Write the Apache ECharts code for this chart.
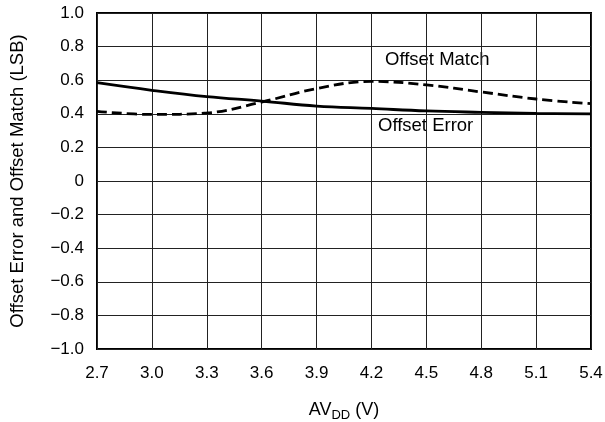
<!DOCTYPE html>
<html><head><meta charset="utf-8">
<script src="https://cdn.jsdelivr.net/npm/echarts@6/dist/echarts.min.js"></script>
<style>html,body{margin:0;padding:0;background:#fff}#c{width:605px;height:422px}</style>
</head><body><div id="c"></div>
<script>
const xValues = [2.7, 3.0, 3.3, 3.6, 3.9, 4.2, 4.5, 4.8, 5.1, 5.4];
const offsetError = [0.585, 0.54, 0.502, 0.476, 0.446, 0.432, 0.417, 0.409, 0.403, 0.399];
const offsetMatch = [0.415, 0.396, 0.405, 0.47, 0.55, 0.593, 0.572, 0.53, 0.488, 0.46];
const yTicks = [-1.0, -0.8, -0.6, -0.4, -0.2, 0, 0.2, 0.4, 0.6, 0.8, 1.0];

const chart = echarts.init(document.getElementById('c'));
const font = 'Liberation Sans, Arial, Helvetica, sans-serif';
function fmtY(v){ if (Math.abs(v) < 1e-9) return '0'; const s = Math.abs(v).toFixed(1); return v < 0 ? '\u2212' + s : s; }
chart.setOption({
  animation: false,
  grid: { left: 97, right: 14, top: 13, bottom: 73, show: true, borderColor: '#000', borderWidth: 2, containLabel: false, outerBoundsMode: 'none' },
  xAxis: {
    type: 'value', min: 2.7, max: 5.4, interval: 0.3,
    axisLine: { show: false }, axisTick: { show: false },
    axisLabel: { color: '#000', fontFamily: font, fontSize: 17, margin: 16, formatter: v => v.toFixed(1) },
    splitLine: { lineStyle: { color: '#222', width: 1 } },
    name: '{a|AV}{s|DD}{a| (V)}', nameLocation: 'middle', nameGap: 50,
    nameTextStyle: { rich: { a: { fontFamily: font, fontSize: 18, color: '#000' }, s: { fontFamily: font, fontSize: 13, color: '#000', verticalAlign: 'bottom', padding: [10,0,0,0] } } }
  },
  yAxis: {
    type: 'value', min: -1.0, max: 1.0, interval: 0.2,
    axisLine: { show: false }, axisTick: { show: false },
    axisLabel: { color: '#000', fontFamily: font, fontSize: 17, margin: 13, formatter: fmtY },
    splitLine: { lineStyle: { color: '#222', width: 1 } },
    name: 'Offset Error and Offset Match (LSB)', nameLocation: 'middle', nameGap: 70,
    nameTextStyle: { fontFamily: font, fontSize: 18.5, color: '#000' }
  },
  series: [
    { type: 'line', data: xValues.map((x,i)=>[x, offsetError[i]]), smooth: 0.4, symbol: 'none',
      lineStyle: { color: '#000', width: 2.8 } },
    { type: 'line', data: xValues.map((x,i)=>[x, offsetMatch[i]]), smooth: 0.4, symbol: 'none',
      lineStyle: { color: '#000', width: 2.8, type: [10, 5] } }
  ],
  graphic: [
    { type: 'text', left: 385, top: 50, style: { text: 'Offset Match', fontFamily: font, fontSize: 18.5, fill: '#000' } },
    { type: 'text', left: 378, top: 116, style: { text: 'Offset Error', fontFamily: font, fontSize: 18.5, fill: '#000' } }
  ]
});
</script></body></html>
